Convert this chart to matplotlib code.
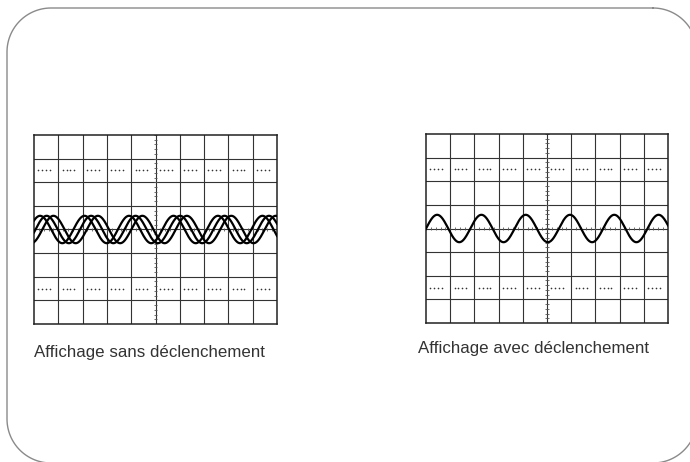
import matplotlib.pyplot as plt
import numpy as np

plt.rcParams["font.family"] = ["Liberation Sans", "DejaVu Sans"]

W, H = 690, 462

# screen: 10 x 8 divisions
n_cols, n_rows = 10, 8
dotted_rows = [2.5, -2.5]

# sine (divisions)
wave_amp = 0.58
wave_period = 1.83
left_peaks = [0.25, 0.52, 0.80]   # three untriggered sweeps
right_peaks = [0.46]              # triggered: one stable trace

labels = ["Affichage sans déclenchement", "Affichage avec déclenchement"]

fig = plt.figure(figsize=(W / 100, H / 100), dpi=100)

# background with rounded frame and captions (pixel coords, y down)
bg = fig.add_axes([0, 0, 1, 1])
bg.set_xlim(0, W)
bg.set_ylim(H, 0)
bg.axis("off")


def rounded_frame(x0, y0, x1, y1, r):
    pts = []
    corners = [(x1 - r, y0 + r, -90, 0), (x1 - r, y1 - r, 0, 90),
               (x0 + r, y1 - r, 90, 180), (x0 + r, y0 + r, 180, 270)]
    for cx, cy, a0, a1 in corners:
        a = np.radians(np.linspace(a0, a1, 30))
        pts += list(zip(cx + r * np.cos(a), cy + r * np.sin(a)))
    pts.append(pts[0])
    px, py = zip(*pts)
    bg.plot(px, py, color="#8a8a8a", lw=1.0, clip_on=False)


rounded_frame(7, 8, 697, 463, 44)


def draw_screen(rect, peaks):
    x0, y0, x1, y1 = rect
    ax = fig.add_axes([x0 / W, 1 - y1 / H, (x1 - x0) / W, (y1 - y0) / H])
    ax.set_xlim(0, n_cols)
    ax.set_ylim(-n_rows / 2, n_rows / 2)
    ax.set_xticks([])
    ax.set_yticks([])
    for s in ax.spines.values():
        s.set_linewidth(1.1)
        s.set_color("#222222")
    for i in range(1, n_cols):
        ax.axvline(i, color="#333333", lw=0.8, zorder=1)
    for j in range(1, n_rows):
        ax.axhline(j - n_rows / 2, color="#333333", lw=0.8, zorder=1)

    # minor ticks on the centre axes
    t = np.arange(0, n_cols + 0.01, 0.2)
    ax.vlines(t, -0.07, 0.07, color="#555555", lw=0.6)
    t = np.arange(-n_rows / 2, n_rows / 2 + 0.01, 0.2)
    ax.hlines(t, n_cols / 2 - 0.07, n_cols / 2 + 0.07, color="#555555", lw=0.6)

    # dotted graticule rows
    for yr in dotted_rows:
        dx = []
        for c in range(n_cols):
            dx += [c + f for f in (0.18, 0.34, 0.50, 0.66)]
        ax.scatter(dx, np.full(len(dx), yr), s=1.4, color="#333333", lw=0)

    xs = np.linspace(0, n_cols, 800)
    for p in peaks:
        ys = wave_amp * np.cos(2 * np.pi * (xs - p) / wave_period)
        ax.plot(xs, ys, color="black", lw=1.6, zorder=3)
    return ax


draw_screen((34, 135, 277, 324), left_peaks)
draw_screen((426, 134, 668, 323), right_peaks)

bg.text(34, 352, labels[0], fontsize=12.2, color="#333333", va="center", ha="left")
bg.text(418, 349, labels[1], fontsize=12.2, color="#333333", va="center", ha="left")

fig.savefig("out.png", dpi=100)
